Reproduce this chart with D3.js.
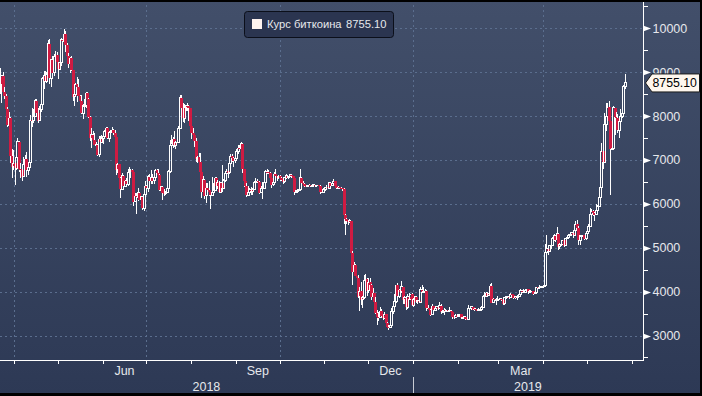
<!DOCTYPE html>
<html><head><meta charset="utf-8">
<script src="https://cdn.jsdelivr.net/npm/d3@7"></script>
<style>html,body{margin:0;padding:0;background:#000;overflow:hidden}svg{display:block}</style>
</head><body>
<svg id="c" width="702" height="396"></svg>
<script>
// ---------- DATA (daily candles) ----------
const startDate = "2018-03-21";          // first candle
const firstOpen = 8750;                   // open of first candle; later opens = previous close (24/7 market)
const closes = [
 8900,8720,8920,8550,8450,8150,7790,7950,7090,6850,6930,
 6810,7050,7420,6790,6780,6620,6900,7020,6770,6830,6940,7900,7890,8000,8350,8060,7890,8160,8270,8860,8920,8790,8940,9650,8860,9280,8990,9350,9390,9240,
 9070,9220,9740,9700,9860,9620,9370,9190,9320,9040,8440,8500,8720,8670,8460,8340,8060,8240,8240,8520,8400,7990,7500,7570,7460,7350,7350,7120,7470,7400,7490,
 7530,7640,7720,7500,7630,7650,7680,7620,7530,6780,6900,6580,6330,6640,6400,6510,6450,6710,6740,6760,6720,6050,6170,6150,6250,6090,6160,5900,6220,6400,
 6360,6620,6530,6600,6530,6600,6770,6710,6660,6310,6390,6250,6240,6270,6360,6740,7320,7380,7470,7330,7400,7400,7720,8420,8180,7950,8190,8230,8220,8180,7780,
 7620,7560,7430,7030,7060,6950,6720,6280,6550,6190,6350,6320,6260,6200,6270,6310,6580,6400,6490,6270,6480,6360,6530,6690,6740,6710,6910,7090,7050,6980,7030,
 7190,7270,7260,7370,6790,6530,6410,6200,6250,6320,6290,6330,6490,6490,6520,6500,6250,6340,6360,6490,6730,6720,6710,6600,6430,6480,6670,6640,6600,6630,
 6590,6540,6500,6590,6640,6600,6630,6660,6640,6590,6270,6300,6300,6320,6600,6480,6460,6410,6390,6410,6420,6400,6410,6430,6410,6420,6420,6410,6260,6270,6320,
 6370,6380,6350,6480,6410,6460,6520,6410,6360,6380,6370,6350,6340,5740,5650,5600,5580,5620,4870,4450,4600,4360,4310,3880,4010,3820,3860,4250,4280,4020,
 4210,4150,3880,3960,3770,3510,3420,3410,3550,3440,3390,3490,3280,3200,3190,3230,3540,3670,3780,4140,3900,4030,4000,4110,3820,3860,3640,3880,3830,3940,3690,
 3820,3880,3770,3790,3760,4040,3990,4000,4010,3620,3620,3590,3470,3670,3580,3620,3650,3610,3680,3530,3540,3580,3550,3570,3560,3560,3530,3430,3400,3460,3430,
 3460,3480,3400,3410,3430,3370,3360,3620,3620,3650,3590,3600,3590,3570,3580,3600,3630,3880,3900,3960,3910,3960,4120,3750,3830,3810,3820,3820,
 3830,3840,3810,3720,3860,3880,3880,3860,3940,3920,3860,3880,3870,3880,3930,4020,3990,3990,4030,4050,3990,4010,4010,4010,3950,3970,4100,4090,4100,4110,4110,
 4140,4900,4980,4920,5040,5060,5200,5270,5180,5320,5020,5070,5080,5170,5040,5210,5240,5290,5300,5340,5280,5400,5530,5450,5170,5270,5270,5280,5200,5330,
 5370,5490,5760,5830,5800,5750,5850,5940,6150,6380,7200,6950,7810,7990,8200,7880,7250,7260,8190,7970,7960,7680,7880,7990,8050,8670,8755.10
];
const highs = [
 9170,9100,8930,9000,8670,8500,8210,8100,7980,7240,7220,
 7050,7120,7510,7430,6930,6860,7070,7110,7180,6880,6970,8020,8190,8170,8380,8390,8180,8220,8320,8900,9030,9020,9000,9730,9750,9300,9380,9410,9480,9460,
 9240,9240,9780,9760,9990,9940,9660,9440,9350,9380,9050,8650,8760,8880,8840,8470,8470,8270,8380,8550,8560,8420,8000,7720,7650,7610,7410,7370,7540,7550,7580,
 7600,7690,7760,7750,7660,7690,7740,7700,7690,7530,6940,6910,6620,6700,6660,6550,6590,6800,6830,6790,6790,6730,6250,6240,6350,6280,6190,6170,6290,6520,
 6430,6660,6680,6770,6690,6630,6790,6790,6790,6680,6410,6390,6330,6300,6390,6760,7450,7560,7520,7660,7440,7590,7770,8480,8480,8290,8270,8240,8290,8260,8180,
 7780,7720,7560,7500,7090,7160,7150,6720,6630,6550,6480,6480,6520,6270,6620,6480,6620,6610,6540,6530,6490,6880,6560,6720,6800,6780,6930,7130,7140,7060,7080,
 7250,7340,7340,7410,7390,6790,6530,6470,6400,6370,6390,6350,6530,6590,6560,6520,6520,6400,6500,6500,6780,6790,6760,6730,6600,6550,6720,6800,6640,6650,
 6650,6610,6540,6610,6670,6650,6640,6690,6660,6640,6590,6320,6330,6400,6800,6620,6520,6480,6430,6420,6460,6440,6420,6460,6440,6440,6440,6430,6420,6300,6350,
 6390,6420,6390,6490,6480,6470,6560,6530,6410,6400,6390,6380,6370,6350,5770,5670,5610,5650,5620,4920,4670,4620,4360,4380,4100,4210,3900,4370,4410,4310,
 4300,4300,4170,4080,3980,3880,3570,3530,3650,3600,3460,3530,3490,3300,3230,3270,3630,3700,3940,4160,4200,4070,4050,4250,4110,3890,3900,3950,3980,3950,3960,
 3850,3910,3880,3820,3850,4100,4140,4110,4070,4030,3690,3630,3600,3710,3680,3660,3670,3660,3760,3720,3570,3620,3610,3590,3580,3640,3580,3530,3440,3480,3480,
 3480,3490,3480,3430,3440,3440,3390,3700,3660,3660,3650,3620,3630,3600,3620,3630,3670,3920,4000,3990,3990,3980,4170,4200,3850,3840,3850,3890,
 3860,3850,3850,3830,3880,3900,3910,3940,3960,3940,3920,3890,3890,3920,3950,4070,4030,4050,4040,4060,4070,4040,4030,4020,4020,3990,4110,4110,4140,4130,4130,
 4160,5080,5300,5030,5060,5230,5250,5320,5270,5470,5330,5100,5120,5180,5190,5230,5270,5310,5340,5350,5340,5460,5620,5630,5500,5300,5300,5300,5300,5350,
 5400,5540,5900,5880,5850,5810,6000,5980,6180,6440,7380,7550,8080,8300,8290,8350,7890,7460,8240,8190,8100,8040,7900,8150,8140,8700,8960
];
const lows = [
 8760,8510,8290,8500,8380,7850,7740,7750,6930,6600,6780,
 6430,6770,7020,6720,6580,6520,6610,6890,6620,6660,6790,6870,7750,7840,7990,7980,7850,7880,8100,8250,8610,8770,8760,8930,8740,8660,8970,8920,9190,9150,
 8840,9040,9140,9550,9690,9470,9210,9100,8990,9030,8350,8230,8440,8330,8450,8110,8040,7940,8150,8190,8350,7960,7440,7280,7360,7340,7260,7090,7070,7320,7390,
 7360,7470,7630,7470,7400,7550,7630,7570,7510,6660,6710,6470,6140,6310,6390,6390,6450,6410,6700,6580,6690,5960,6050,5780,6070,6080,6050,5870,5830,6230,
 6290,6280,6500,6460,6450,6450,6550,6700,6650,6290,6310,6080,6170,6200,6250,6340,6700,7290,7280,7300,7260,7380,7390,7700,8060,7870,7850,8110,8120,7890,7700,
 7470,7480,7300,6960,6920,6860,6690,6140,6230,6120,6020,6240,6180,5890,6170,6220,6300,6330,6340,6260,6260,6280,6360,6500,6660,6580,6680,6870,6960,6830,6920,
 7010,7140,7200,7240,6700,6390,6340,6160,6170,6250,6210,6200,6320,6450,6470,6430,6220,6240,6120,6340,6470,6670,6680,6560,6350,6410,6460,6560,6510,6560,
 6520,6520,6450,6480,6560,6580,6560,6610,6590,6490,6200,6260,6290,6300,6310,6450,6440,6390,6380,6380,6400,6390,6380,6400,6390,6390,6400,6400,6230,6240,6250,
 6300,6360,6330,6330,6380,6400,6450,6380,6330,6350,6330,6330,6300,5550,5300,5530,5520,5570,4810,4150,4350,4350,4180,3860,3550,3700,3630,3840,4100,3900,
 3970,4100,3820,3840,3760,3480,3250,3340,3400,3400,3350,3380,3260,3170,3130,3180,3210,3480,3640,3740,3800,3850,3940,3980,3720,3720,3580,3610,3800,3800,3680,
 3650,3790,3740,3720,3760,3750,3970,3980,3980,3560,3590,3540,3440,3460,3550,3580,3570,3580,3620,3500,3510,3460,3530,3540,3530,3550,3490,3380,3370,3390,3420,
 3430,3440,3390,3390,3400,3350,3350,3350,3600,3590,3570,3550,3570,3550,3570,3580,3590,3620,3860,3890,3880,3900,3940,3740,3730,3780,3690,3780,
 3810,3800,3780,3690,3700,3840,3860,3830,3850,3880,3840,3830,3850,3820,3870,3930,3970,3960,3970,4000,3940,3990,3990,3990,3920,3940,3970,4070,4070,4080,4090,
 4100,4140,4840,4830,4900,4980,5050,5160,5140,5170,4950,4960,5050,5060,5010,5030,5210,5240,5260,5280,5230,5270,5380,5440,5060,5060,5240,5230,5170,5170,
 5320,5360,5480,5560,5720,5610,5750,5800,5940,6130,6360,6800,6950,7650,7960,7660,6200,7230,7250,7560,7800,7620,7500,7820,7950,8000,8620
];
const yTicks = [3000,4000,5000,6000,7000,8000,9000,10000];
const yMinorTicks = [2500,3500,4500,5500,6500,7500,8500,9500,10500];
const monthLabels = ["Jun","Sep","Dec","Mar"];
const monthLabelDates = ["2018-06-01","2018-09-01","2018-12-01","2019-03-01"];
const yearLabels = ["2018","2019"];
const yearStartDates = ["2018-01-01","2019-01-01"];
const seriesName = "Курс биткоина";

// ---------- LAYOUT ----------
const W = 702, H = 396, plotR = 643, plotB = 360;
const svg = d3.select("#c");
const x = d3.scaleUtc()
  .domain([Date.UTC(2018,2,22,3), Date.UTC(2019,5,8,19)])
  .range([0, plotR]);
const y = d3.scaleLinear().domain([2442, 10645]).range([plotB, 0]);

const defs = svg.append("defs");
const grad = defs.append("linearGradient").attr("id","bg").attr("x1",0).attr("y1",0).attr("x2",0).attr("y2",1);
grad.append("stop").attr("offset","0%").attr("stop-color","#424f6a");
grad.append("stop").attr("offset","100%").attr("stop-color","#2d3955");
defs.append("clipPath").attr("id","clip").append("rect").attr("x",0).attr("y",0).attr("width",plotR).attr("height",plotB);

svg.append("rect").attr("width",W).attr("height",H).attr("fill","url(#bg)");

const gridColor = "#5b6e8e";
const textColor = "#e6e8ec";
const font = "'Liberation Sans', Arial, sans-serif";

// horizontal grid
svg.append("g").selectAll("line").data(yTicks).join("line")
  .attr("x1",0).attr("x2",plotR)
  .attr("y1",d=>Math.round(y(d))+0.5).attr("y2",d=>Math.round(y(d))+0.5)
  .attr("stroke",gridColor).attr("stroke-width",1).attr("stroke-dasharray","2,3");
// vertical grid (quarters)
svg.append("g").selectAll("line").data(x.ticks(d3.utcMonth.every(3))).join("line")
  .attr("x1",d=>Math.round(x(d))+0.5).attr("x2",d=>Math.round(x(d))+0.5)
  .attr("y1",0).attr("y2",plotB)
  .attr("stroke",gridColor).attr("stroke-width",1).attr("stroke-dasharray","2,3");

// ---------- CANDLES ----------
const start = new Date(startDate + "T00:00:00Z");
const days = closes.map((c,i)=>({
  date: d3.utcHour.offset(d3.utcDay.offset(start,i),12),
  o: i ? closes[i-1] : firstOpen, h: highs[i], l: lows[i], c
}));
const red = "#cf1b42";
const gC = svg.append("g").attr("clip-path","url(#clip)").attr("shape-rendering","crispEdges");
days.forEach(d=>{
  const cx = x(d.date);
  const up = d.c >= d.o;
  const top = Math.max(d.o,d.c), bot = Math.min(d.o,d.c);
  const g = gC.append("g");
  if (up) {
    g.append("line").attr("x1",cx).attr("x2",cx).attr("y1",y(d.h)).attr("y2",y(top)).attr("stroke","#fff");
    g.append("line").attr("x1",cx).attr("x2",cx).attr("y1",y(bot)).attr("y2",y(d.l)).attr("stroke","#fff");
    g.append("rect").attr("x",cx-1).attr("width",2)
      .attr("y",y(top)).attr("height",Math.max(y(bot)-y(top),0.5))
      .attr("fill","none").attr("stroke","#fff").attr("stroke-width",1);
  } else {
    g.append("line").attr("x1",cx).attr("x2",cx).attr("y1",y(d.h)).attr("y2",y(d.l)).attr("stroke","#fff");
    g.append("rect").attr("x",cx-1.5).attr("width",3)
      .attr("y",y(top)).attr("height",Math.max(y(bot)-y(top),1))
      .attr("fill",red);
  }
});

// ---------- X AXIS ----------
const gx = svg.append("g").attr("shape-rendering","crispEdges");
gx.append("line").attr("x1",0).attr("x2",plotR).attr("y1",plotB+0.5).attr("y2",plotB+0.5).attr("stroke","#fff");
gx.selectAll(".mt").data(x.ticks(d3.utcMonth)).join("line")
  .attr("x1",d=>Math.round(x(d))+0.5).attr("x2",d=>Math.round(x(d))+0.5)
  .attr("y1",plotB).attr("y2",plotB+4).attr("stroke","#fff");
gx.selectAll(".ml").data(monthLabelDates).join("text")
  .attr("x",d=>{const m=new Date(d+"T00:00:00Z"); return (x(m)+x(d3.utcMonth.offset(m,1)))/2;})
  .attr("y",375).attr("text-anchor","middle")
  .attr("font-family",font).attr("font-size","12.5px").attr("fill",textColor)
  .text((d,i)=>monthLabels[i]);
const yb = yearStartDates.map(s=>Math.max(0,x(new Date(s+"T00:00:00Z"))));
gx.selectAll(".yl").data(yearLabels).join("text")
  .attr("x",(d,i)=>((yb[i]) + (i+1<yb.length ? yb[i+1] : plotR))/2)
  .attr("y",391).attr("text-anchor","middle")
  .attr("font-family",font).attr("font-size","12.5px").attr("fill",textColor)
  .text(d=>d);
gx.append("line").attr("x1",Math.round(yb[1])+0.5).attr("x2",Math.round(yb[1])+0.5)
  .attr("y1",377).attr("y2",H).attr("stroke","#c8ccd4");

// ---------- Y AXIS (right) ----------
const gy = svg.append("g");
gy.append("line").attr("x1",plotR+0.5).attr("x2",plotR+0.5).attr("y1",0).attr("y2",plotB+1)
  .attr("stroke","#fff").attr("shape-rendering","crispEdges");
gy.selectAll(".mn").data(yMinorTicks).join("line")
  .attr("x1",plotR).attr("x2",plotR+5)
  .attr("y1",d=>Math.round(y(d))+0.5).attr("y2",d=>Math.round(y(d))+0.5)
  .attr("stroke","#fff").attr("shape-rendering","crispEdges");
gy.selectAll(".tri").data(yTicks).join("path")
  .attr("d",d=>{const t=Math.round(y(d))+0.5; return `M${plotR},${t-3}L${plotR+8},${t}L${plotR},${t+3}Z`;})
  .attr("fill","#fff");
gy.selectAll(".lab").data(yTicks).join("text")
  .attr("x",plotR+9.5).attr("y",d=>y(d)).attr("dy","0.36em")
  .attr("font-family",font).attr("font-size","12.5px").attr("fill",textColor)
  .text(d=>d);

// last value callout
const last = days[days.length-1].c;
const ly = y(last);
svg.append("path")
  .attr("d",`M${plotR+2.5},${ly}L${plotR+9},${ly-9}L${W-2.5},${ly-9}L${W-2.5},${ly+9}L${plotR+9},${ly+9}Z`)
  .attr("fill","#fff7ee").attr("stroke","#1a1a1a").attr("stroke-width",1);
svg.append("text").attr("x",plotR+9.5).attr("y",ly).attr("dy","0.36em")
  .attr("font-family",font).attr("font-size","12.3px").attr("fill","#000")
  .text(d3.format(".2f")(last));

// ---------- LEGEND ----------
const lg = svg.append("g");
lg.append("rect").attr("x",244.5).attr("y",11.5).attr("width",149).attr("height",26).attr("rx",3)
  .attr("fill","#2b3550").attr("stroke","#0b0f1a");
lg.append("rect").attr("x",252).attr("y",19).attr("width",10).attr("height",10).attr("fill","#fff4f0");
lg.append("text").attr("x",267).attr("y",24).attr("dy","0.36em")
  .attr("font-family",font).attr("font-size","11.2px").attr("fill",textColor).text(seriesName);
lg.append("text").attr("x",346).attr("y",24).attr("dy","0.36em")
  .attr("font-family",font).attr("font-size","11.2px").attr("fill",textColor).text(d3.format(".2f")(last));

// ---------- frame ----------
svg.append("rect").attr("x",0).attr("y",0).attr("width",W).attr("height",2).attr("fill","#000");
svg.append("rect").attr("x",0).attr("y",393).attr("width",W).attr("height",3).attr("fill","#000");
svg.append("rect").attr("x",700).attr("y",0).attr("width",2).attr("height",H).attr("fill","#000");
</script>
</body></html>
